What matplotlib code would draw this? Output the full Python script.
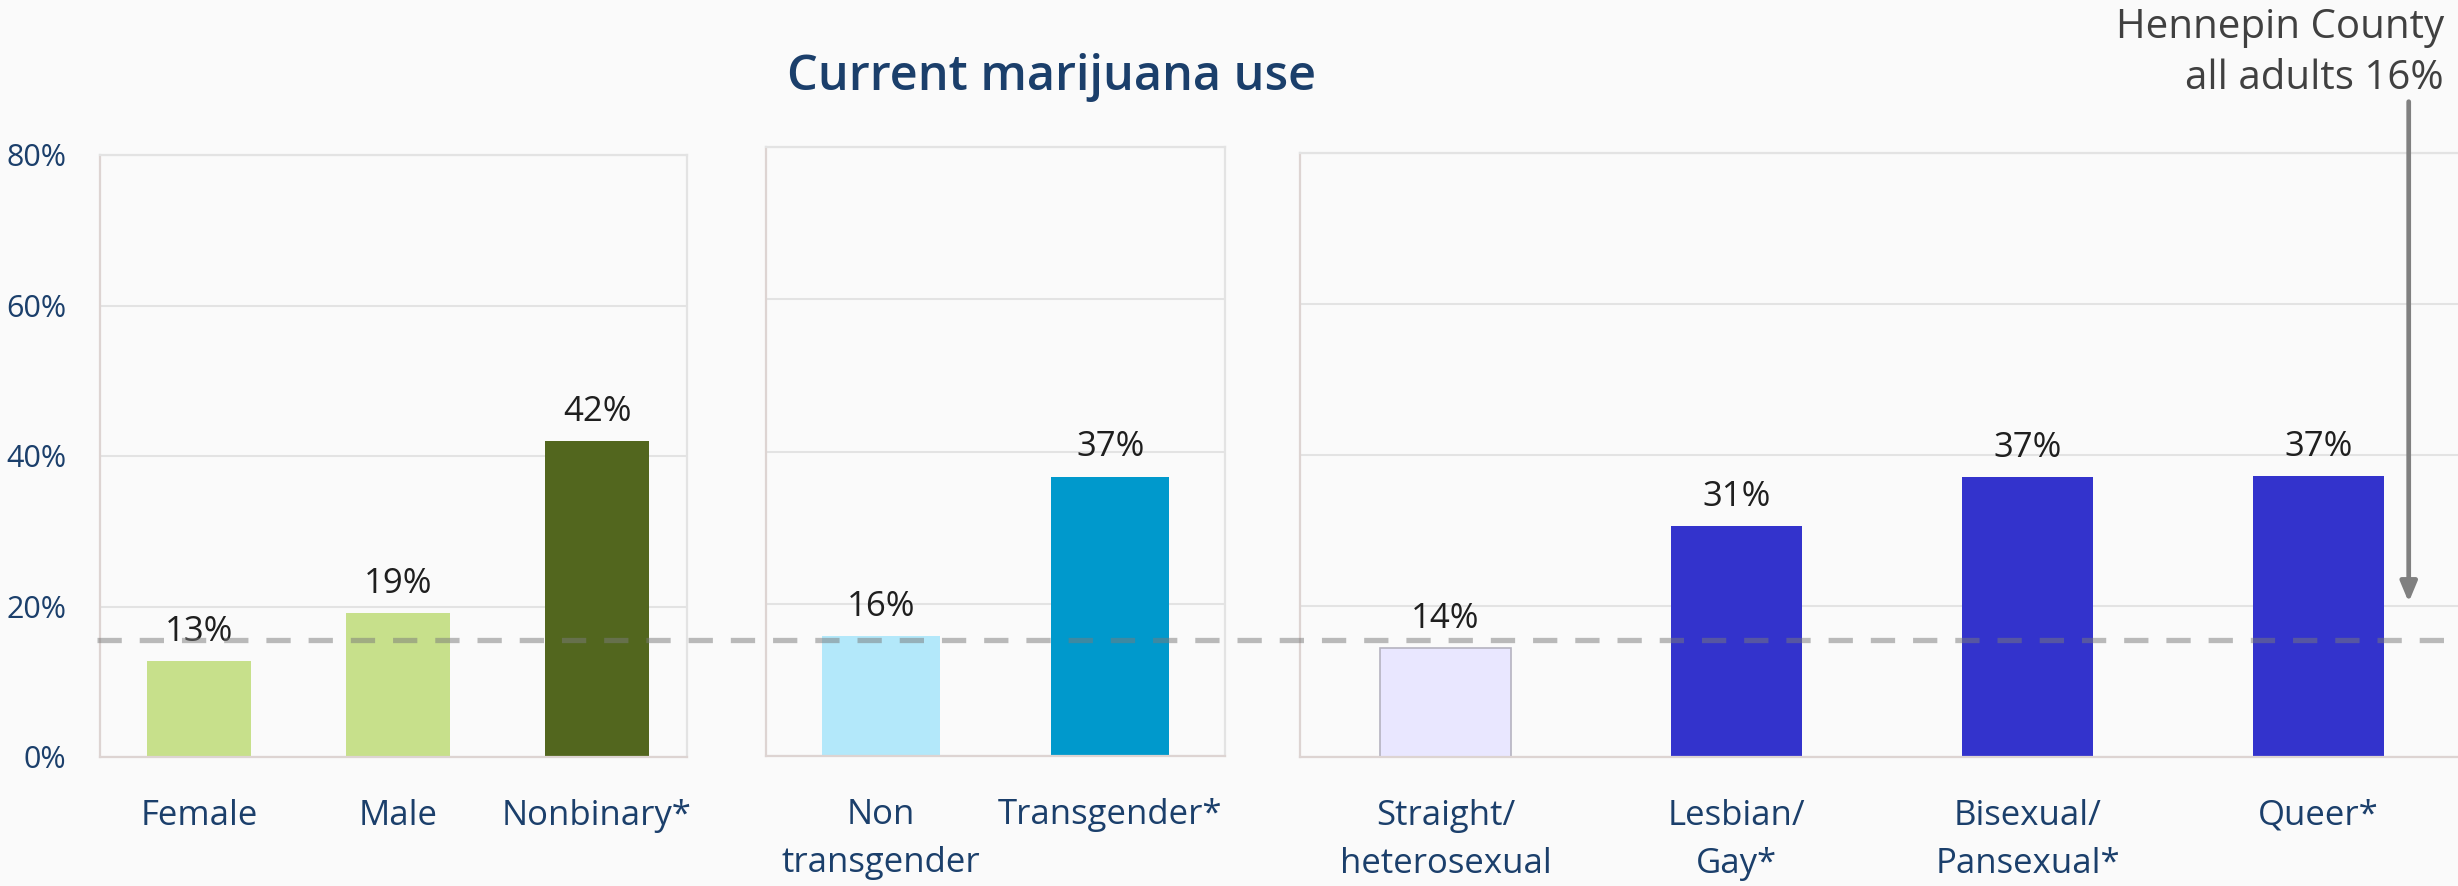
import matplotlib
matplotlib.use("Agg")
import matplotlib.pyplot as plt
from matplotlib.lines import Line2D
from matplotlib.transforms import blended_transform_factory

plt.rcParams['font.family'] = ['Open Sans', 'DejaVu Sans']

# ---------------- data ----------------
title = "Current marijuana use"
gender_labels = ["Female", "Male", "Nonbinary*"]
gender_values = [12.8, 19.1, 42.0]
trans_labels = ["Non\ntransgender", "Transgender*"]
trans_values = [15.8, 36.7]
orient_labels = ["Straight/\nheterosexual", "Lesbian/\nGay*", "Bisexual/\nPansexual*", "Queer*"]
orient_values = [14.4, 30.6, 37.1, 37.2]
county_value = 15.6
county_label = "Hennepin County\nall adults 16%"
y_ticks = [0, 20, 40, 60, 80]
y_tick_labels = ["0%", "20%", "40%", "60%", "80%"]

# ---------------- styles ----------------
gender_colors = ["#C7E08B", "#C7E08B", "#52661E"]
trans_colors = ["#B3E8FA", "#0099CC"]
orient_colors = ["#E9E7FF", "#3333CC", "#3333CC", "#3333CC"]
orient_edges = ["#B5B3C0", "none", "none", "none"]
navy = "#1B3F6B"
bg = "#FAFAFA"

W, H, DPI = 2458, 886, 100
fig = plt.figure(figsize=(W / DPI, H / DPI), dpi=DPI, facecolor=bg)


def px_rect(x0, x1, ytop, ybot):
    return [x0 / W, 1 - ybot / H, (x1 - x0) / W, (ybot - ytop) / H]


# (axes rect in px, slot width in px) -- first panel's right border is tighter
ax1 = fig.add_axes(px_rect(99.5, 687, 155, 757))
ax2 = fig.add_axes(px_rect(766, 1225, 147, 756))
ax3 = fig.add_axes(px_rect(1300, 2464, 153, 757))
slot_px = {ax1: 199.0, ax2: 229.5, ax3: 291.0}
axw_px = {ax1: 687 - 99.5, ax2: 1225 - 766, ax3: 2464 - 1300}

panels = [
    (ax1, gender_labels, gender_values, gender_colors, ["none"] * 3, 0.52),
    (ax2, trans_labels, trans_values, trans_colors, ["none"] * 2, 0.514),
    (ax3, orient_labels, orient_values, orient_colors, orient_edges, 0.447),
]

for ax, labels, vals, cols, edges, bw in panels:
    ax.set_facecolor(bg)
    n = len(labels)
    xs = list(range(n))
    ax.bar(xs, vals, width=bw, color=cols, edgecolor=edges,
           linewidth=1.2, zorder=2)
    ax.set_xlim(-0.5, -0.5 + axw_px[ax] / slot_px[ax])
    ax.set_ylim(0, 80)
    ax.set_yticks(y_ticks)
    ax.yaxis.grid(True, color="#E3E3E3", linewidth=1.5, zorder=0)
    ax.set_axisbelow(True)
    ax.set_xticks(xs)
    ax.set_xticklabels(labels, fontsize=25, color=navy)
    for t in ax.get_xticklabels():
        t.set_linespacing(1.55)
    ax.tick_params(axis='x', length=0, pad=30)
    ax.tick_params(axis='y', length=0)
    for s in ["left", "bottom"]:
        ax.spines[s].set_color("#DDD4D2")
        ax.spines[s].set_linewidth(1.6)
    for s in ["top", "right"]:
        ax.spines[s].set_color("#E3E3E3")
        ax.spines[s].set_linewidth(1.6)
    for x, v in zip(xs, vals):
        ax.annotate(f"{round(v)}%", xy=(x, v), xytext=(0, 14.5),
                    textcoords="offset points", ha="center", va="baseline",
                    fontsize=25, color="#1F1F1F", zorder=5)
    if ax is ax1:
        ax.set_yticklabels(y_tick_labels, fontsize=22, color=navy)
        ax.tick_params(axis='y', pad=24)
    else:
        ax.set_yticklabels([])

# dashed county reference line across the figure
tr = blended_transform_factory(fig.transFigure, ax1.transData)
line = Line2D([97 / W, 1.0], [county_value, county_value], transform=tr,
              color="#7A7A7A", alpha=0.5, linewidth=3.8,
              linestyle=(0, (4.6, 3.4)), solid_capstyle="butt",
              dash_capstyle="butt", zorder=10)
fig.add_artist(line)

# annotation arrow and text
ax3.annotate("", xy=(3.31, 20.5), xytext=(3.31, 86.8),
             xycoords="data", textcoords="data", annotation_clip=False,
             arrowprops=dict(arrowstyle="-|>,head_length=0.6,head_width=0.25",
                             color="#808080", lw=3.4, mutation_scale=20,
                             shrinkA=0, shrinkB=0))
fig.text(2444 / W, 1 - 8 / H, county_label, ha="right", va="top",
         fontsize=29, color="#404040", linespacing=1.33)

fig.text(1052 / W, 1 - 77 / H, title, ha="center", va="center",
         fontsize=35, fontweight="semibold", color=navy)

fig.savefig("out.png", dpi=DPI, facecolor=bg)
